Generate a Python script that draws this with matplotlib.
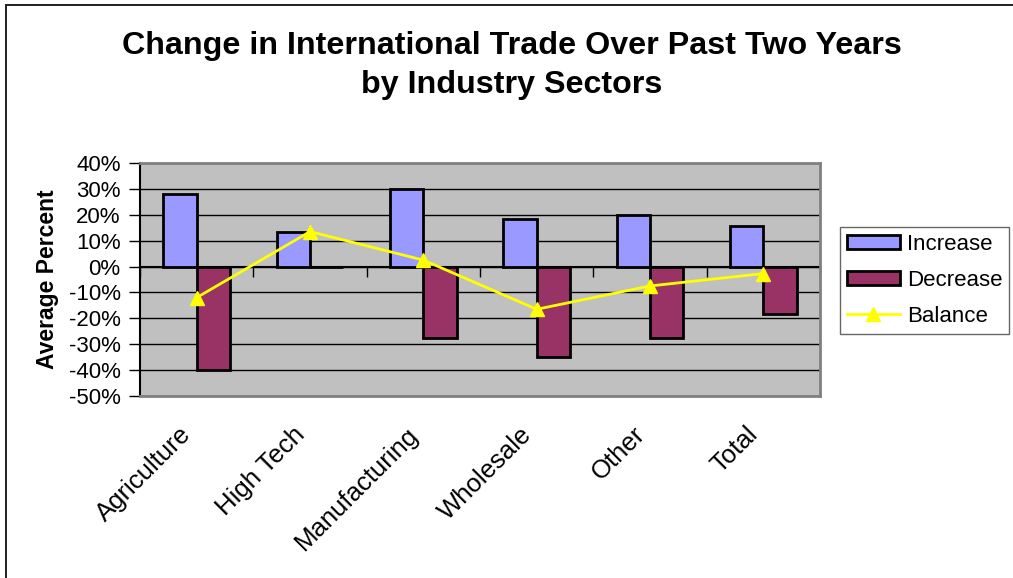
import numpy as np
import matplotlib
matplotlib.use("Agg")
import matplotlib.pyplot as plt
from matplotlib.patches import Rectangle
from matplotlib.lines import Line2D
from matplotlib.ticker import FuncFormatter
from matplotlib.transforms import ScaledTranslation

plt.rcParams['font.family'] = ['Liberation Sans', 'DejaVu Sans']

# trade change by sector, in percent
sectors = ["Agriculture", "High Tech", "Manufacturing", "Wholesale", "Other", "Total"]
increase = [28, 13.5, 30, 18.5, 20, 15.8]
decrease = [-40, 0, -27.5, -35, -27.5, -18.5]
balance = [-12, 13.5, 2.5, -16.5, -7.5, -2.7]
y_ticks = [40, 30, 20, 10, 0, -10, -20, -30, -40, -50]

inc_color = '#9999FF'
dec_color = '#993366'
bal_color = '#FFFF00'

fig = plt.figure(figsize=(10.13, 5.78), dpi=100)

# outer chart border (left/top edges only show)
fig.patches.append(Rectangle((6 / 1013, -0.1), 1.2, 1.1 - 5 / 578,
                             transform=fig.transFigure, fill=False,
                             edgecolor='#202020', linewidth=1.4))

ax = fig.add_axes([140 / 1013, 1 - 396 / 578, 680 / 1013, 233 / 578])
ax.set_facecolor('#C0C0C0')

x = np.arange(len(sectors))
w = 0.295
ax.bar(x - w / 2, increase, w, color=inc_color, edgecolor='black', linewidth=2, zorder=3, label='Increase')
ax.bar(x + w / 2, decrease, w, color=dec_color, edgecolor='black', linewidth=2, zorder=3, label='Decrease')
ax.plot(x, balance, color=bal_color, linewidth=2, marker='^', markersize=10, zorder=5, label='Balance')

ax.set_xlim(-0.5, len(sectors) - 0.5)
ax.set_ylim(-50, 40)
ax.set_yticks(y_ticks)
ax.yaxis.set_major_formatter(FuncFormatter(lambda v, p: f"{v:.0f}%"))
ax.tick_params(axis='y', direction='out', length=8, width=1, pad=6, labelsize=16)
ax.grid(axis='y', color='black', linewidth=1, zorder=1)
ax.set_axisbelow(True)

for side in ['top', 'right', 'bottom']:
    ax.spines[side].set_color('#808080')
    ax.spines[side].set_linewidth(2)
ax.spines['left'].set_color('black')
ax.spines['left'].set_linewidth(1.5)

ax.set_xticks(x)
ax.set_xticklabels(sectors, rotation=45, ha='right', va='center', rotation_mode='anchor', fontsize=18.5)
ax.tick_params(axis='x', length=0, pad=25)
# pull the slanted labels a little left of the category centre
shift = ScaledTranslation(-9 / 100, 0, fig.dpi_scale_trans)
for lbl in ax.get_xticklabels():
    lbl.set_transform(lbl.get_transform() + shift)

# category axis crossing at zero with boundary ticks
zero_pos = (0 - (-50)) / (40 - (-50))
sec = ax.secondary_xaxis(zero_pos)
sec.set_xticks(np.arange(-0.5, len(sectors), 1))
sec.set_xticklabels([])
sec.tick_params(direction='in', length=7, width=1, color='black')
for s in sec.spines.values():
    s.set_color('black')
    s.set_linewidth(1.5)

ax.set_ylabel("Average Percent", fontsize=16.5, fontweight='bold')
ax.yaxis.set_label_coords(-0.136, 0.5)
ax.yaxis.label.set_va('center')

fig.text(0.5055, 1 - 46 / 578, "Change in International Trade Over Past Two Years",
         ha='center', va='center', fontsize=23.2, fontweight='bold')
fig.text(0.5055, 1 - 85 / 578, "by Industry Sectors",
         ha='center', va='center', fontsize=23.2, fontweight='bold')

handles = [
    Rectangle((0, 0), 1, 1, facecolor=inc_color, edgecolor='black', linewidth=2),
    Rectangle((0, 0), 1, 1, facecolor=dec_color, edgecolor='black', linewidth=2),
    Line2D([0], [0], color=bal_color, linewidth=2, marker='^', markersize=10),
]
leg = fig.legend(handles, ['Increase', 'Decrease', 'Balance'],
                 loc='upper left', bbox_to_anchor=(840 / 1013, 1 - 227 / 578),
                 borderaxespad=0, fontsize=16, frameon=True, fancybox=False,
                 edgecolor='#404040', handlelength=2.4, handleheight=0.62,
                 handletextpad=0.3, labelspacing=0.68, borderpad=0.3)
leg.get_frame().set_linewidth(1)

fig.savefig('out.png', dpi=100)
